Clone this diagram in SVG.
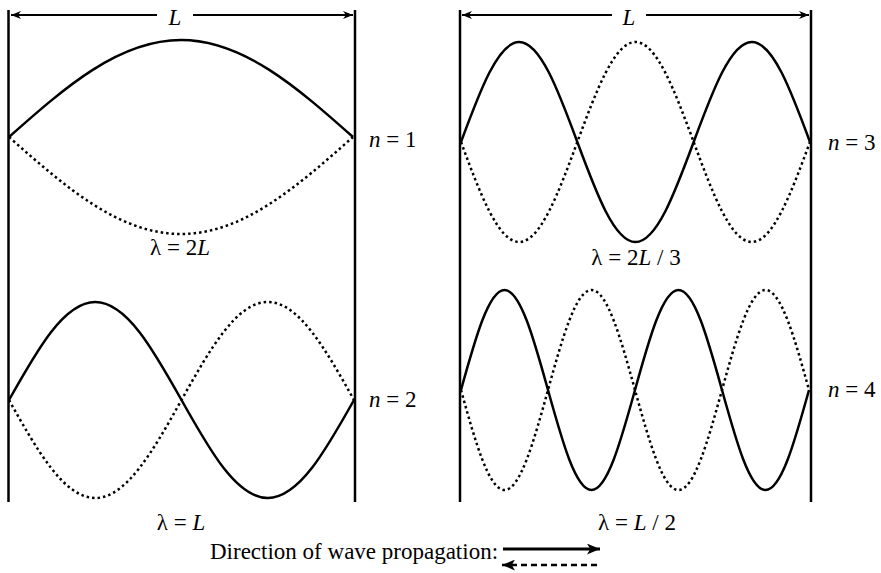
<svg xmlns="http://www.w3.org/2000/svg" width="881" height="573" viewBox="0 0 881 573">
<defs>
<marker id="ah" viewBox="0 0 10 8" refX="10" refY="4" markerWidth="10" markerHeight="8" markerUnits="userSpaceOnUse" orient="auto-start-reverse">
<path d="M0,0 L10,4 L0,8 L3,4 Z" fill="#000"/>
</marker>
<marker id="ahb" viewBox="0 0 12 10" refX="12" refY="5" markerWidth="13" markerHeight="11" markerUnits="userSpaceOnUse" orient="auto-start-reverse">
<path d="M0,0 L12,5 L0,10 L3,5 Z" fill="#000"/>
</marker>
</defs>
<style>
.wall{stroke:#000;stroke-width:2.5;fill:none}
.dim{stroke:#000;stroke-width:2;fill:none}
.solid{stroke:#000;stroke-width:2.5;fill:none}
.dot{stroke:#000;stroke-width:2.5;fill:none;stroke-dasharray:2.5 3}
text{fill:#000}
</style>
<rect width="881" height="573" fill="#fff"/>

<g id="left-frame">
<line class="wall" x1="8.5" y1="10" x2="8.5" y2="502"/>
<line class="wall" x1="355" y1="10" x2="355" y2="502"/>
</g>
<g id="right-frame">
<line class="wall" x1="460" y1="10" x2="460" y2="502"/>
<line class="wall" x1="811" y1="10" x2="811" y2="502"/>
</g>

<g id="connectors">
<line class="dim" x1="11" y1="15" x2="157" y2="15" marker-start="url(#ah)"/>
<line class="dim" x1="193" y1="15" x2="353" y2="15" marker-end="url(#ah)"/>
<line class="dim" x1="462" y1="15" x2="612" y2="15" marker-start="url(#ah)"/>
<line class="dim" x1="646" y1="15" x2="809" y2="15" marker-end="url(#ah)"/>
<line x1="503" y1="549" x2="600" y2="549" stroke="#000" stroke-width="3" marker-end="url(#ahb)"/>
<line x1="597" y1="565" x2="502" y2="565" stroke="#000" stroke-width="2.5" stroke-dasharray="6 4" marker-end="url(#ahb)"/>
</g>

<g font-family="Liberation Serif, Times New Roman, DejaVu Serif, serif" font-size="23">
<g id="n1">
<path class="solid" d="M9,137 C65.1,87.3 118.8,40 181,40 C243.2,40 296.9,87.3 353,137"/>
<path class="dot" d="M9,137 C65.1,186.7 118.8,234 181,234 C243.2,234 296.9,186.7 353,137"/>
<text x="369" y="147"><tspan font-style="italic">n</tspan> = 1</text>
<text x="180" y="255" text-anchor="middle">λ = 2<tspan font-style="italic">L</tspan></text>
</g>

<g id="n2">
<path class="solid" d="M9,400 C37.13,349.8 64.04,302 95.25,302 C126.46,302 153.37,349.8 181.5,400 C209.63,450.2 236.54,498 267.75,498 C298.96,498 325.87,450.2 354,400"/>
<path class="dot" d="M9,400 C37.13,450.2 64.04,498 95.25,498 C126.46,498 153.37,450.2 181.5,400 C209.63,349.8 236.54,302 267.75,302 C298.96,302 325.87,349.8 354,400"/>
<text x="369" y="407"><tspan font-style="italic">n</tspan> = 2</text>
<text x="181" y="530" text-anchor="middle">λ = <tspan font-style="italic">L</tspan></text>
</g>

<g id="n3">
<path class="solid" d="M461,142 C479.97,90.8 498.12,42 519.17,42 C540.22,42 558.37,90.8 577.33,142 C596.3,193.2 614.45,242 635.5,242 C656.55,242 674.7,193.2 693.67,142 C712.64,90.8 730.79,42 751.83,42 C772.88,42 791.03,90.8 810,142"/>
<path class="dot" d="M461,142 C479.97,193.2 498.12,242 519.17,242 C540.22,242 558.37,193.2 577.33,142 C596.3,90.8 614.45,42 635.5,42 C656.55,42 674.7,90.8 693.67,142 C712.64,193.2 730.79,242 751.83,242 C772.88,242 791.03,193.2 810,142"/>
<text x="828" y="150"><tspan font-style="italic">n</tspan> = 3</text>
<text x="636" y="265" text-anchor="middle">λ = 2<tspan font-style="italic">L</tspan> / 3</text>
</g>

<g id="n4">
<path class="solid" d="M461,390 C475.19,338.8 488.76,290 504.5,290 C520.24,290 533.81,338.8 548,390 C562.19,441.2 575.76,490 591.5,490 C607.24,490 620.81,441.2 635,390 C649.19,338.8 662.76,290 678.5,290 C694.24,290 707.81,338.8 722,390 C736.19,441.2 749.76,490 765.5,490 C781.24,490 794.81,441.2 809,390"/>
<path class="dot" d="M461,390 C475.19,441.2 488.76,490 504.5,490 C520.24,490 533.81,441.2 548,390 C562.19,338.8 575.76,290 591.5,290 C607.24,290 620.81,338.8 635,390 C649.19,441.2 662.76,490 678.5,490 C694.24,490 707.81,441.2 722,390 C736.19,338.8 749.76,290 765.5,290 C781.24,290 794.81,338.8 809,390"/>
<text x="828" y="397"><tspan font-style="italic">n</tspan> = 4</text>
<text x="637" y="530" text-anchor="middle">λ = <tspan font-style="italic">L</tspan> / 2</text>
</g>

<g id="labels">
<text x="175" y="25" text-anchor="middle" font-style="italic">L</text>
<text x="629" y="25" text-anchor="middle" font-style="italic">L</text>
<text x="210" y="559" font-size="23">Direction of wave propagation:</text>
</g>
</g>
</svg>
